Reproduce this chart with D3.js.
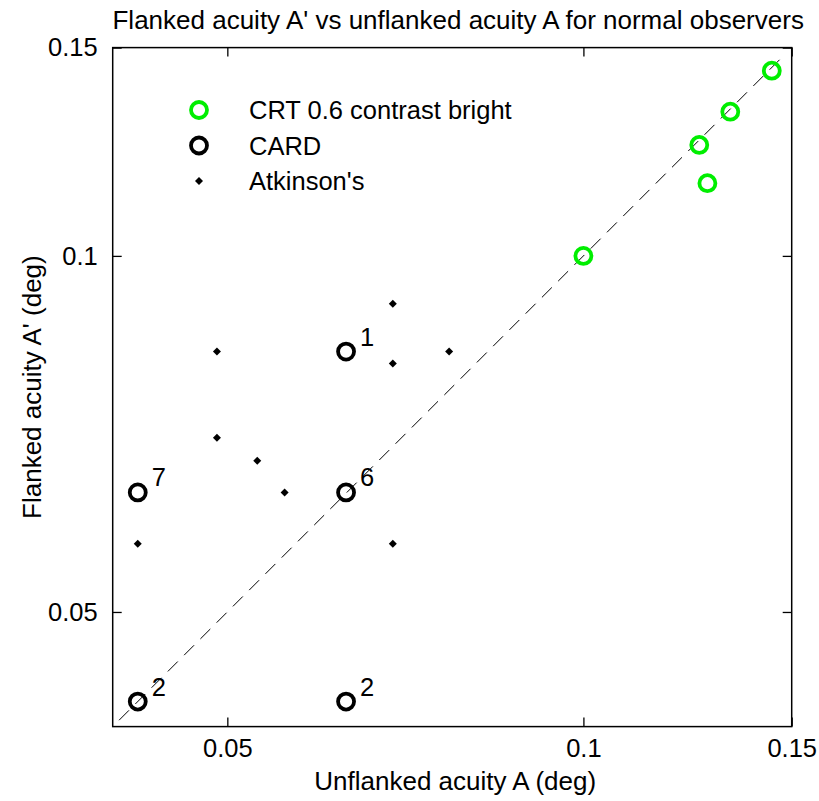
<!DOCTYPE html>
<html>
<head>
<meta charset="utf-8">
<script src="https://cdn.jsdelivr.net/npm/d3@7"></script>
<style>
  html, body { margin: 0; padding: 0; background: #fff; }
  svg text { font-family: "Liberation Sans", Arial, Helvetica, sans-serif; fill: #000; }
</style>
</head>
<body>
<svg id="chart" width="819" height="801"></svg>
<script>
// Unflanked (A) and flanked (A') acuity, in degrees
const crtA      = [0.1443, 0.1331, 0.1253, 0.1273, 0.1000];
const crtAf     = [0.1434, 0.1324, 0.1241, 0.1152, 0.1000];

const cardA     = [0.0630, 0.0420, 0.0630, 0.0420, 0.0630];
const cardAf    = [0.0830, 0.0631, 0.0631, 0.0420, 0.0420];
const cardCount = ["1", "7", "6", "2", "2"];

const atkA      = [0.0690, 0.0490, 0.0690, 0.0770, 0.0490, 0.0530, 0.0559, 0.0420, 0.0690];
const atkAf     = [0.0911, 0.0830, 0.0811, 0.0830, 0.0702, 0.0671, 0.0631, 0.0571, 0.0571];

const tickValues = [0.05, 0.1, 0.15];
const tickLabels = ["0.05", "0.1", "0.15"];
const axisDomain = [0.04, 0.15];
const identityLine = [0.0405, 0.148];

const legendNames = ["CRT 0.6 contrast bright", "CARD", "Atkinson's"];

const svg = d3.select("#chart");
const margin = { left: 112.7, top: 47.6, size: 679 };
const x = d3.scaleLog().domain(axisDomain).range([margin.left, margin.left + margin.size]);
const y = d3.scaleLog().domain(axisDomain).range([margin.top + margin.size, margin.top]);

const FONT = 25.5;
const x0 = margin.left, x1 = margin.left + margin.size;
const y0 = margin.top + margin.size, y1 = margin.top;

// Identity line A' = A
svg.append("line")
  .attr("x1", x(identityLine[0])).attr("y1", y(identityLine[0]))
  .attr("x2", x(identityLine[1])).attr("y2", y(identityLine[1]))
  .attr("stroke", "#000").attr("stroke-width", 1)
  .attr("stroke-dasharray", "14,9");

// Axes box with inward ticks on all four sides
const tickLen = 9;
const fmt = (d) => tickLabels[tickValues.indexOf(d)];

const axB = d3.axisBottom(x).tickValues(tickValues).tickFormat(fmt).tickSizeInner(-tickLen).tickSizeOuter(0).tickPadding(12);
const axT = d3.axisTop(x).tickValues(tickValues).tickFormat("").tickSizeInner(-tickLen).tickSizeOuter(0);
const axL = d3.axisLeft(y).tickValues(tickValues).tickFormat(fmt).tickSizeInner(-tickLen).tickSizeOuter(0).tickPadding(15);
const axR = d3.axisRight(y).tickValues(tickValues).tickFormat("").tickSizeInner(-tickLen).tickSizeOuter(0);

function styleAxis(g) {
  g.select(".domain").remove();
  g.selectAll(".tick line").attr("stroke", "#000").attr("stroke-width", 1.3);
  g.selectAll(".tick text").attr("font-size", FONT).attr("fill", "#000")
    .attr("font-family", "Liberation Sans, Arial, sans-serif");
}
svg.append("g").attr("transform", `translate(0,${y0})`).call(axB).call(styleAxis);
svg.append("g").attr("transform", `translate(0,${y1})`).call(axT).call(styleAxis);
svg.append("g").attr("transform", `translate(${x0},0)`).call(axL).call(styleAxis);
svg.append("g").attr("transform", `translate(${x1},0)`).call(axR).call(styleAxis);

svg.append("rect")
  .attr("x", x0).attr("y", y1).attr("width", x1 - x0).attr("height", y0 - y1)
  .attr("fill", "none").attr("stroke", "#000").attr("stroke-width", 1.5);

// Markers
const diamond = (cx, cy, r) => `M${cx},${cy - r}L${cx + r},${cy}L${cx},${cy + r}L${cx - r},${cy}Z`;

svg.append("g").selectAll("path")
  .data(atkA.map((a, i) => [a, atkAf[i]]))
  .join("path")
  .attr("d", d => diamond(x(d[0]), y(d[1]), 4))
  .attr("fill", "#000");

svg.append("g").selectAll("circle")
  .data(cardA.map((a, i) => [a, cardAf[i]]))
  .join("circle")
  .attr("cx", d => x(d[0])).attr("cy", d => y(d[1])).attr("r", 8)
  .attr("fill", "none").attr("stroke", "#000").attr("stroke-width", 3.8);

svg.append("g").selectAll("text")
  .data(cardA.map((a, i) => [a, cardAf[i], cardCount[i]]))
  .join("text")
  .attr("x", d => x(d[0]) + 14).attr("y", d => y(d[1]) - 6)
  .attr("font-size", FONT)
  .text(d => d[2]);

svg.append("g").selectAll("circle")
  .data(crtA.map((a, i) => [a, crtAf[i]]))
  .join("circle")
  .attr("cx", d => x(d[0])).attr("cy", d => y(d[1])).attr("r", 8)
  .attr("fill", "none").attr("stroke", "#00ee00").attr("stroke-width", 3.8);

// Legend
const legY = [110, 145.5, 181];
const legX = 199, legTextX = 249;
const leg = svg.append("g");
leg.append("circle").attr("cx", legX).attr("cy", legY[0]).attr("r", 8)
  .attr("fill", "none").attr("stroke", "#00ee00").attr("stroke-width", 3.8);
leg.append("circle").attr("cx", legX).attr("cy", legY[1]).attr("r", 8)
  .attr("fill", "none").attr("stroke", "#000").attr("stroke-width", 3.8);
leg.append("path").attr("d", diamond(legX, legY[2], 4)).attr("fill", "#000");
leg.selectAll("text").data(legendNames).join("text")
  .attr("x", legTextX).attr("y", (d, i) => legY[i])
  .attr("dominant-baseline", "central")
  .attr("font-size", FONT)
  .text(d => d);

// Titles
svg.append("text")
  .attr("x", (x0 + x1) / 2 + 6).attr("y", 29)
  .attr("text-anchor", "middle").attr("font-size", 26)
  .text("Flanked acuity A' vs unflanked acuity A for normal observers");

svg.append("text")
  .attr("x", (x0 + x1) / 2 + 3).attr("y", 790)
  .attr("text-anchor", "middle").attr("font-size", 26)
  .text("Unflanked acuity A (deg)");

svg.append("text")
  .attr("transform", `translate(41,${(y0 + y1) / 2}) rotate(-90)`)
  .attr("text-anchor", "middle").attr("font-size", 26)
  .text("Flanked acuity A' (deg)");
</script>
</body>
</html>
